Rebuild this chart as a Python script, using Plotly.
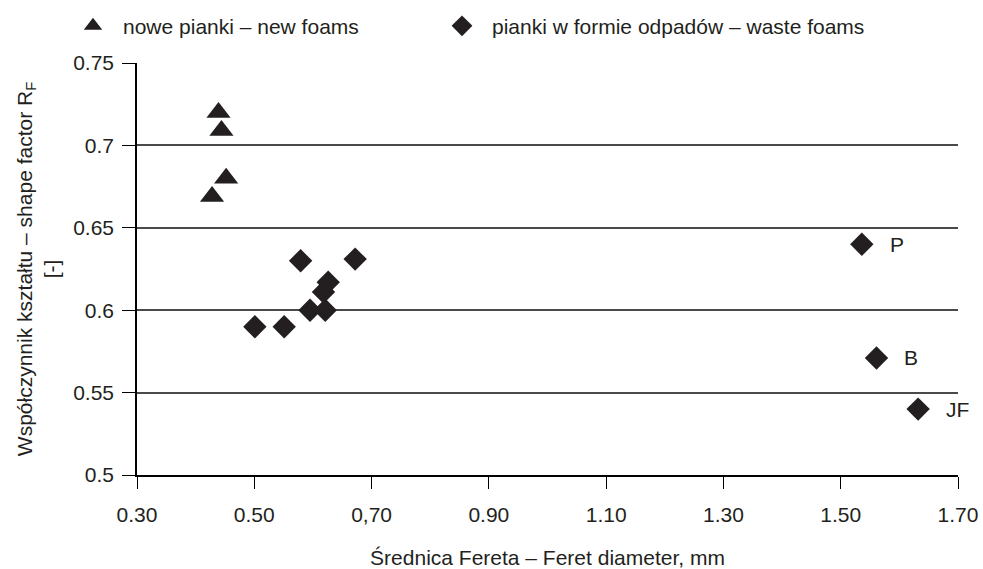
import plotly.graph_objects as go

# Data
new_x = [0.439, 0.444, 0.452, 0.428]
new_y = [0.720, 0.709, 0.680, 0.669]

waste_x = [0.501, 0.551, 0.579, 0.595, 0.621, 0.618, 0.626, 0.672, 1.536, 1.561, 1.632]
waste_y = [0.590, 0.590, 0.630, 0.600, 0.600, 0.611, 0.617, 0.631, 0.640, 0.571, 0.540]

label_x = [1.536, 1.561, 1.632]
label_y = [0.640, 0.571, 0.540]
label_text = ["P", "B", "JF"]

x_tickvals = [0.30, 0.50, 0.70, 0.90, 1.10, 1.30, 1.50, 1.70]
x_ticktext = ["0.30", "0.50", "0,70", "0.90", "1.10", "1.30", "1.50", "1.70"]
y_tickvals = [0.5, 0.55, 0.6, 0.65, 0.7, 0.75]
y_ticktext = ["0.5", "0.55", "0.6", "0.65", "0.7", "0.75"]

DARK = "#231f20"
FONT = "Liberation Sans, Arial, sans-serif"
FS = 21

fig = go.Figure()
fig.add_trace(go.Scatter(
    x=new_x, y=new_y, mode="markers", name="nowe pianki – new foams",
    marker=dict(symbol="triangle-up", size=21, color=DARK), legend="legend",
))
fig.add_trace(go.Scatter(
    x=waste_x, y=waste_y, mode="markers", name="pianki w formie odpadów – waste foams",
    marker=dict(symbol="diamond", size=18, color=DARK), legend="legend2",
))

for lx, ly, lt in zip(label_x, label_y, label_text):
    fig.add_annotation(x=lx, y=ly, text=lt, showarrow=False, xanchor="left",
                       xshift=26, font=dict(size=FS, color=DARK, family=FONT))

leg_common = dict(orientation="h", xref="container", yref="container",
                  y=0.99, xanchor="left", yanchor="top", itemwidth=50,
                  font=dict(size=FS, color=DARK, family=FONT),
                  bgcolor="rgba(0,0,0,0)")

fig.update_layout(
    width=983, height=569,
    margin=dict(l=137, r=25, t=63, b=94, autoexpand=False),
    paper_bgcolor="white", plot_bgcolor="white",
    font=dict(family=FONT, size=FS, color=DARK),
    showlegend=True,
    legend=dict(x=63 / 983, **leg_common),
    legend2=dict(x=432 / 983, **leg_common),
    xaxis=dict(range=[0.30, 1.70], tickvals=x_tickvals, ticktext=x_ticktext,
               showgrid=False, zeroline=False, showline=True, linecolor="black",
               linewidth=1.5, ticks="outside", ticklen=12, tickwidth=1.2,
               tickcolor="black", ticklabelstandoff=8, automargin=False,
               title=dict(text="Średnica Fereta – Feret diameter, mm", standoff=27,
                          font=dict(size=FS))),
    yaxis=dict(range=[0.5, 0.75], tickvals=y_tickvals, ticktext=y_ticktext,
               showgrid=True, gridcolor="#4a4a4a", gridwidth=1.5,
               zeroline=False, showline=True, linecolor="black", linewidth=1.5,
               ticks="outside", ticklen=13, tickwidth=1.2, tickcolor="black",
               ticklabelstandoff=4, automargin=False,
               title=dict(text="Współczynnik kształtu – shape factor R<sub>F</sub><br>[-]",
                          standoff=8, font=dict(size=FS))),
)

fig.write_html("out.html")
